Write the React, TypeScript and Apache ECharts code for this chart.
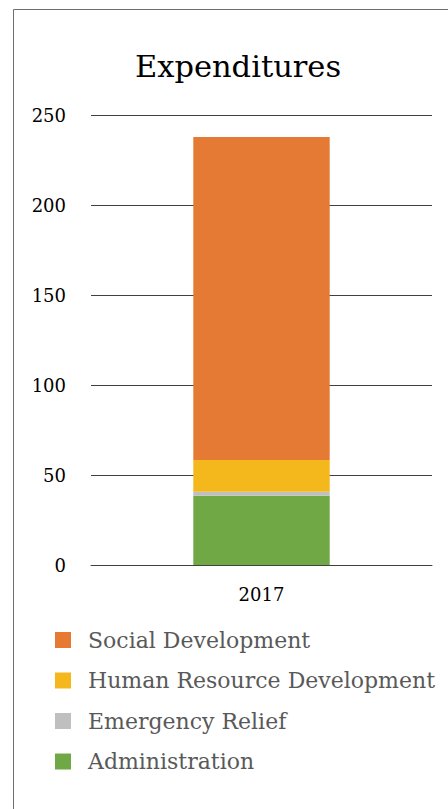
import React, { useEffect, useRef } from "react";
import * as echarts from "echarts";

const categories = ["2017"];
const administration = [38.5];
const emergencyRelief = [2.2];
const humanResourceDevelopment = [17.6];
const socialDevelopment = [179.5];
const legendOrder = ["Social Development", "Human Resource Development", "Emergency Relief", "Administration"];

const FONT = "DejaVu Serif";

export default function App() {
  const ref = useRef<HTMLDivElement>(null);
  useEffect(() => {
    const chart = echarts.init(ref.current!, null, { renderer: "svg" });
    const mk = (name: string, data: number[], color: string) => ({
      name,
      type: "bar",
      stack: "total",
      data,
      barWidth: "40%",
      itemStyle: { color },
    });
    chart.setOption({
      animation: false,
      textStyle: { fontFamily: FONT },
      graphic: [
        {
          type: "rect",
          shape: { x: 13.5, y: 9.5, width: 500, height: 900 },
          style: { fill: "none", stroke: "#6e6e6e", lineWidth: 1 },
          silent: true,
        },
      ],
      title: {
        text: "Expenditures",
        left: 233,
        textAlign: "center",
        top: 46,
        textStyle: { fontFamily: FONT, fontSize: 30.5, fontWeight: "normal", color: "#000" },
      },
      grid: { left: 91, right: 16, top: 115, bottom: 244, containLabel: false },
      xAxis: {
        type: "category",
        data: categories,
        axisLine: { show: true, lineStyle: { color: "#404040", width: 1 } },
        axisTick: { show: false },
        axisLabel: { color: "#000", fontFamily: FONT, fontSize: 18, margin: 20 },
      },
      yAxis: {
        type: "value",
        min: 0,
        max: 250,
        interval: 50,
        axisLine: { show: false },
        axisTick: { show: false },
        splitLine: { lineStyle: { color: "#404040", width: 1 } },
        axisLabel: { color: "#000", fontFamily: FONT, fontSize: 18, margin: 25 },
      },
      legend: {
        orient: "vertical",
        left: 55,
        top: 628,
        padding: 0,
        data: legendOrder,
        icon: "rect",
        itemWidth: 16,
        itemHeight: 16,
        itemGap: 16.5,
        textStyle: { color: "#595959", fontFamily: FONT, fontSize: 22, lineHeight: 24, padding: [0, 0, 0, 12] },
      },
      series: [
        mk("Administration", administration, "#70a845"),
        mk("Emergency Relief", emergencyRelief, "#bfbfbf"),
        mk("Human Resource Development", humanResourceDevelopment, "#f4b81c"),
        mk("Social Development", socialDevelopment, "#e57a35"),
      ],
    });
    return () => chart.dispose();
  }, []);
  return <div ref={ref} style={{ position: "absolute", left: 0, top: 0, width: 448, height: 809 }} />;
}
